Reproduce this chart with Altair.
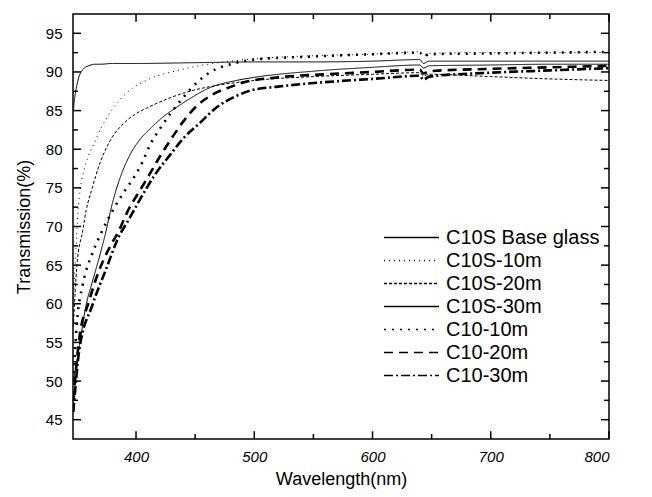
import altair as alt
import pandas as pd

series = ["C10S Base glass", "C10S-10m", "C10S-20m", "C10S-30m", "C10-10m", "C10-20m", "C10-30m"]
thin_series = series[:4]
thick_series = series[4:]

wl_base = [347, 348, 350, 352, 354, 357, 360, 365, 370, 380, 400, 450, 500, 550, 600, 640, 643, 648, 700, 750, 800]
t_base = [85.0, 86.5, 88.3, 89.5, 90.1, 90.6, 90.8, 91.0, 91.0, 91.1, 91.1, 91.2, 91.3, 91.3, 91.4, 91.6, 91.1, 91.4, 91.4, 91.4, 91.4]

wl_s10 = [347, 349, 351, 353, 356, 360, 365, 370, 375, 380, 390, 400, 410, 420, 430, 450, 470, 500, 550, 600, 640, 643, 648, 700, 750, 800]
t_s10 = [60.0, 66.5, 72.0, 75.0, 77.3, 79.2, 80.9, 82.6, 84.0, 85.2, 87.0, 88.2, 89.0, 89.6, 90.0, 90.7, 91.2, 91.7, 92.1, 92.3, 92.6, 92.1, 92.4, 92.5, 92.5, 92.5]

wl_s20 = [347, 350, 355, 358, 363, 369, 375, 380, 390, 400, 410, 420, 443, 470, 500, 550, 600, 640, 643, 648, 700, 750, 800]
t_s20 = [57.0, 65.0, 69.5, 72.2, 75.0, 78.0, 80.2, 81.6, 83.4, 84.6, 85.4, 86.1, 87.4, 88.3, 88.9, 89.4, 89.7, 89.9, 89.5, 89.7, 89.4, 89.1, 88.9]

wl_s30 = [347, 352, 358, 363, 368, 374, 380, 387, 395, 403, 413, 423, 435, 445, 463, 485, 500, 550, 600, 640, 643, 648, 700, 750, 800]
t_s30 = [50.0, 54.5, 60.0, 62.8, 65.5, 69.0, 73.0, 76.5, 79.3, 81.2, 82.8, 84.2, 85.5, 86.5, 88.0, 88.9, 89.3, 90.1, 90.6, 90.9, 90.5, 90.8, 90.9, 91.0, 91.0]

wl_c10 = [347, 350, 355, 363, 371, 380, 390, 398, 405, 412, 420, 430, 440, 452, 463, 480, 500, 550, 600, 640, 643, 648, 700, 750, 800]
t_c10 = [50.0, 57.5, 62.5, 66.5, 69.3, 72.0, 74.5, 76.3, 78.2, 80.6, 82.6, 84.8, 86.7, 88.7, 90.0, 91.0, 91.6, 92.0, 92.3, 92.5, 92.0, 92.3, 92.4, 92.5, 92.6]

wl_c20 = [347, 352, 360, 368, 378, 385, 393, 403, 412, 420, 430, 440, 450, 465, 477, 490, 520, 560, 600, 640, 643, 648, 700, 750, 800]
t_c20 = [47.5, 55.5, 60.2, 64.0, 67.4, 69.3, 72.0, 74.6, 76.9, 79.0, 81.4, 83.6, 85.4, 87.1, 87.9, 88.6, 89.3, 89.7, 90.0, 90.3, 89.8, 90.1, 90.4, 90.6, 90.8]

wl_c30 = [347, 352, 363, 375, 384, 395, 406, 416, 429, 440, 454, 468, 485, 497, 520, 545, 570, 600, 640, 643, 648, 700, 750, 800]
t_c30 = [46.0, 54.0, 59.8, 64.6, 68.2, 71.2, 74.2, 76.7, 79.3, 81.4, 83.4, 85.4, 86.9, 87.6, 88.1, 88.5, 88.8, 89.1, 89.5, 89.0, 89.4, 89.9, 90.2, 90.5]

x_major = [400, 500, 600, 700, 800]
x_minor = [450, 550, 650, 750]
y_major = [45, 50, 55, 60, 65, 70, 75, 80, 85, 90, 95]
y_minor = [47.5, 52.5, 57.5, 62.5, 67.5, 72.5, 77.5, 82.5, 87.5, 92.5]

dash_range = [[1, 0], [1, 4], [3, 2], [1, 0], [2, 6], [9, 6], [9, 3, 2, 3]]

pairs = [(wl_base, t_base), (wl_s10, t_s10), (wl_s20, t_s20), (wl_s30, t_s30),
         (wl_c10, t_c10), (wl_c20, t_c20), (wl_c30, t_c30)]
rows = []
for name, (w, t) in zip(series, pairs):
    for a, b in zip(w, t):
        rows.append({"series": name, "wl": a, "T": b})
df = pd.DataFrame(rows)
df_thin = df[df["series"].isin(thin_series)]
df_thick = df[df["series"].isin(thick_series)]

W, H = 536, 425
xdom = [346.7, 800]
ydom = [42.5, 97.5]
xscale = alt.Scale(domain=xdom, nice=False, zero=False)
yscale = alt.Scale(domain=ydom, nice=False, zero=False)
FONT = "Liberation Sans"

# inward tick lengths expressed in data units (about 8 px major, 5 px minor)
YT_MAJ, YT_MIN = 1.0, 0.65
XT_MAJ, XT_MIN = 6.8, 4.2

x_axis = alt.Axis(
    orient="bottom", values=x_major, format="d", labelFontStyle="italic",
    labelFontSize=15, labelFont=FONT, ticks=False, domain=False,
    grid=False, labelPadding=10, title="Wavelength(nm)", titleFontSize=18,
    titleFont=FONT, titleFontWeight="normal", titlePadding=6, labelColor="black",
    titleColor="black")
y_axis = alt.Axis(
    orient="left", values=y_major, labelFontSize=15, labelFont=FONT,
    ticks=False, domain=False, grid=False, labelPadding=11,
    title="Transmission(%)", titleFontSize=18, titleFont=FONT,
    titleFontWeight="normal", titlePadding=12, labelColor="black",
    titleColor="black")

leg = alt.Legend(title=None, orient="none", legendX=310, legendY=212,
                 symbolType="stroke", symbolSize=3025, clipHeight=23,
                 symbolStrokeColor="black", symbolStrokeWidth=1.6,
                 labelFontSize=20, labelFont=FONT, labelColor="black",
                 labelOffset=6, rowPadding=0, padding=0, labelLimit=300)


def line_layer(d, width):
    return alt.Chart(d).mark_line(color="black", clip=True, interpolate="monotone",
                                  strokeWidth=width).encode(
        x=alt.X("wl:Q", scale=xscale, axis=x_axis),
        y=alt.Y("T:Q", scale=yscale, axis=y_axis),
        strokeDash=alt.StrokeDash("series:N",
            scale=alt.Scale(domain=series, range=dash_range), legend=leg),
        detail="series:N",
    )


thin_lines = line_layer(df_thin, 1)
thick_lines = line_layer(df_thick, 2.6)


def xrules(vals, y0, y1):
    return alt.Chart(pd.DataFrame({"wl": vals})).mark_rule(
        color="black", strokeWidth=1.5
    ).encode(x=alt.X("wl:Q"), y=alt.YDatum(y0), y2=alt.Y2Datum(y1))


def yrules(vals, x0, x1):
    return alt.Chart(pd.DataFrame({"T": vals})).mark_rule(
        color="black", strokeWidth=1.5
    ).encode(y=alt.Y("T:Q"), x=alt.XDatum(x0), x2=alt.X2Datum(x1))


tick_layers = [
    xrules(x_major, ydom[0], ydom[0] + YT_MAJ), xrules(x_major, ydom[1] - YT_MAJ, ydom[1]),
    xrules(x_minor, ydom[0], ydom[0] + YT_MIN), xrules(x_minor, ydom[1] - YT_MIN, ydom[1]),
    yrules(y_major, xdom[0], xdom[0] + XT_MAJ), yrules(y_major, xdom[1] - XT_MAJ, xdom[1]),
    yrules(y_minor, xdom[0], xdom[0] + XT_MIN), yrules(y_minor, xdom[1] - XT_MIN, xdom[1]),
]

chart = alt.layer(thin_lines, thick_lines, *tick_layers).properties(
    width=W, height=H,
    padding={"left": 15, "top": 13, "right": 5, "bottom": 5},
).configure_view(stroke="black", strokeWidth=1.5)

chart.save("out.html", embed_options={"renderer": "svg", "actions": False})
